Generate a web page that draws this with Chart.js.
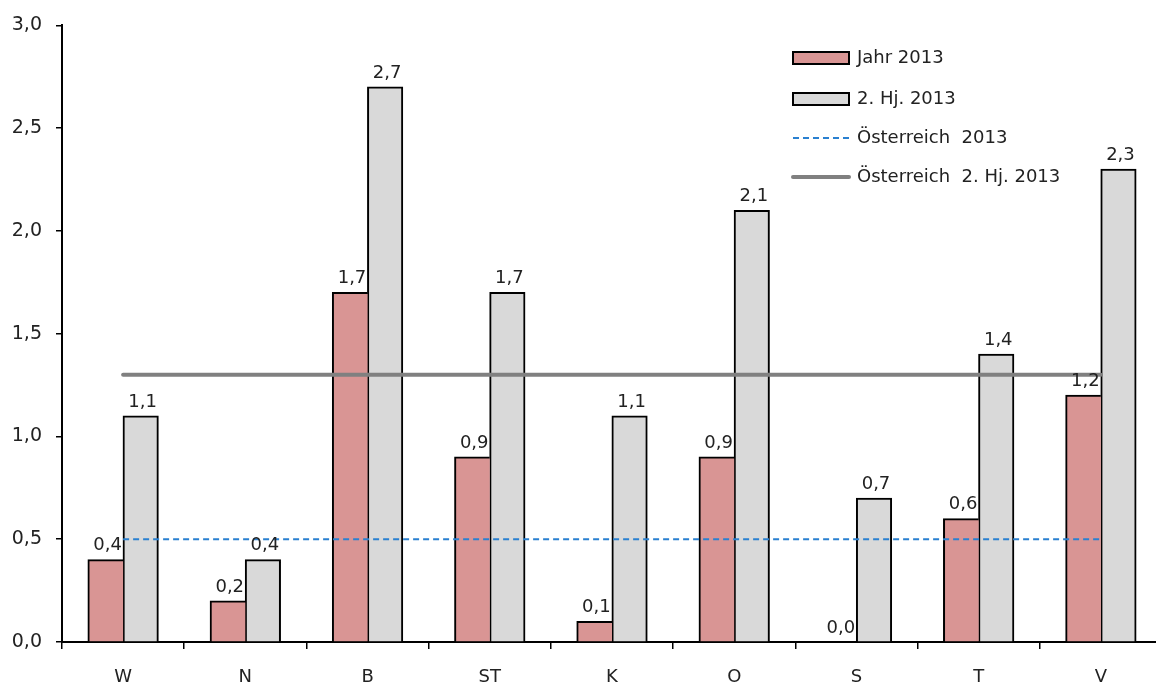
<!DOCTYPE html>
<html>
<head>
<meta charset="utf-8">
<script src="https://cdn.jsdelivr.net/npm/chart.js@4.4.1/dist/chart.umd.min.js"></script>
<style>
  html, body { margin: 0; padding: 0; background: #fff; overflow: hidden; }
  #wrap { width: 1166px; height: 687px; }
</style>
</head>
<body>
<div id="wrap"><canvas id="c" width="1166" height="687"></canvas></div>
<script>
const categories = ['W', 'N', 'B', 'ST', 'K', 'O', 'S', 'T', 'V'];
const jahr2013 = [0.4, 0.2, 1.7, 0.9, 0.1, 0.9, 0.0, 0.6, 1.2];
const hj2013 = [1.1, 0.4, 2.7, 1.7, 1.1, 2.1, 0.7, 1.4, 2.3];
const oesterreich2013 = 0.5;
const oesterreichHj2013 = 1.3;
const yTicks = [0, 0.5, 1.0, 1.5, 2.0, 2.5, 3.0];

const FONT = '"DejaVu Sans", sans-serif';
const TEXT = '#222';
const BLUE = '#2a80d0';
const fmt = v => v.toFixed(1).replace('.', ',');

// value labels above each bar
const barLabels = {
  id: 'barLabels',
  afterDatasetsDraw(chart) {
    const ctx = chart.ctx;
    ctx.save();
    ctx.font = '18px ' + FONT;
    ctx.fillStyle = TEXT;
    ctx.textAlign = 'center';
    ctx.textBaseline = 'bottom';
    chart.data.datasets.forEach((ds, i) => {
      if (ds.type !== 'bar') return;
      chart.getDatasetMeta(i).data.forEach((el, j) => {
        ctx.fillText(fmt(ds.data[j]), el.x + 2, el.y - 5);
      });
    });
    ctx.restore();
  }
};

// legend block in the upper right
const legendBox = {
  id: 'legendBox',
  afterDraw(chart) {
    const ctx = chart.ctx;
    const x0 = 793, x1 = 849, tx = 857;
    const rows = [58, 99, 138, 177];
    ctx.save();
    ctx.font = '18px ' + FONT;
    ctx.textBaseline = 'middle';
    ctx.textAlign = 'left';
    ctx.strokeStyle = '#000'; ctx.lineWidth = 2;
    // Jahr 2013
    ctx.fillStyle = '#d99594';
    ctx.fillRect(x0, rows[0] - 6, x1 - x0, 12);
    ctx.strokeRect(x0, rows[0] - 6, x1 - x0, 12);
    // 2. Hj. 2013
    ctx.fillStyle = '#d9d9d9';
    ctx.fillRect(x0, rows[1] - 6, x1 - x0, 12);
    ctx.strokeRect(x0, rows[1] - 6, x1 - x0, 12);
    // Österreich 2013
    ctx.strokeStyle = BLUE; ctx.lineWidth = 2;
    ctx.setLineDash([6, 4]);
    ctx.beginPath(); ctx.moveTo(x0, rows[2]); ctx.lineTo(x1, rows[2]); ctx.stroke();
    ctx.setLineDash([]);
    // Österreich 2. Hj. 2013
    ctx.strokeStyle = '#808080'; ctx.lineWidth = 4; ctx.lineCap = 'round';
    ctx.beginPath(); ctx.moveTo(x0, rows[3]); ctx.lineTo(x1, rows[3]); ctx.stroke();
    ctx.fillStyle = TEXT;
    ctx.fillText('Jahr 2013', tx, rows[0]);
    ctx.fillText('2. Hj. 2013', tx, rows[1]);
    ctx.fillText('Österreich  2013', tx, rows[2]);
    ctx.fillText('Österreich  2. Hj. 2013', tx, rows[3]);
    ctx.restore();
  }
};

new Chart(document.getElementById('c'), {
  data: {
    labels: categories,
    datasets: [
      {
        type: 'line', label: 'Österreich  2013',
        data: categories.map(() => oesterreich2013),
        borderColor: BLUE, borderWidth: 2, borderDash: [6, 4],
        pointRadius: 0, fill: false, order: 1
      },
      {
        type: 'line', label: 'Österreich  2. Hj. 2013',
        data: categories.map(() => oesterreichHj2013),
        borderColor: '#808080', borderWidth: 4, borderCapStyle: 'round',
        pointRadius: 0, fill: false, order: 0
      },
      {
        type: 'bar', label: 'Jahr 2013', data: jahr2013,
        backgroundColor: '#d99594', borderColor: '#000',
        borderWidth: { top: 2, left: 2, right: 0, bottom: 0 },
        inflateAmount: 0.5,
        categoryPercentage: 0.575, barPercentage: 1.0, order: 2
      },
      {
        type: 'bar', label: '2. Hj. 2013', data: hj2013,
        backgroundColor: '#d9d9d9', borderColor: '#000', borderWidth: 2,
        inflateAmount: 0.5,
        categoryPercentage: 0.575, barPercentage: 1.0, order: 2
      }
    ]
  },
  options: {
    responsive: false,
    animation: false,
    layout: { padding: { top: 24, right: 4, left: 0, bottom: 0 } },
    plugins: { legend: { display: false }, tooltip: { enabled: false } },
    scales: {
      x: {
        offset: true,
        grid: { offset: true, drawOnChartArea: false, drawTicks: true, tickLength: 7, color: '#000', lineWidth: 1.5 },
        border: { color: '#000', width: 2 },
        ticks: { color: TEXT, font: { family: FONT, size: 18 }, padding: 18 },
        afterFit(s) { s.height = 45; }
      },
      y: {
        min: 0, max: 3,
        afterBuildTicks(s) { s.ticks = yTicks.map(v => ({ value: v })); },
        grid: { drawOnChartArea: false, drawTicks: true, tickLength: 6, color: '#000', lineWidth: 1.5 },
        border: { color: '#000', width: 2 },
        ticks: { color: TEXT, font: { family: FONT, size: 19 }, padding: 14, callback: v => fmt(v) },
        afterFit(s) { s.width = 62; }
      }
    }
  },
  plugins: [barLabels, legendBox]
});
</script>
</body>
</html>
